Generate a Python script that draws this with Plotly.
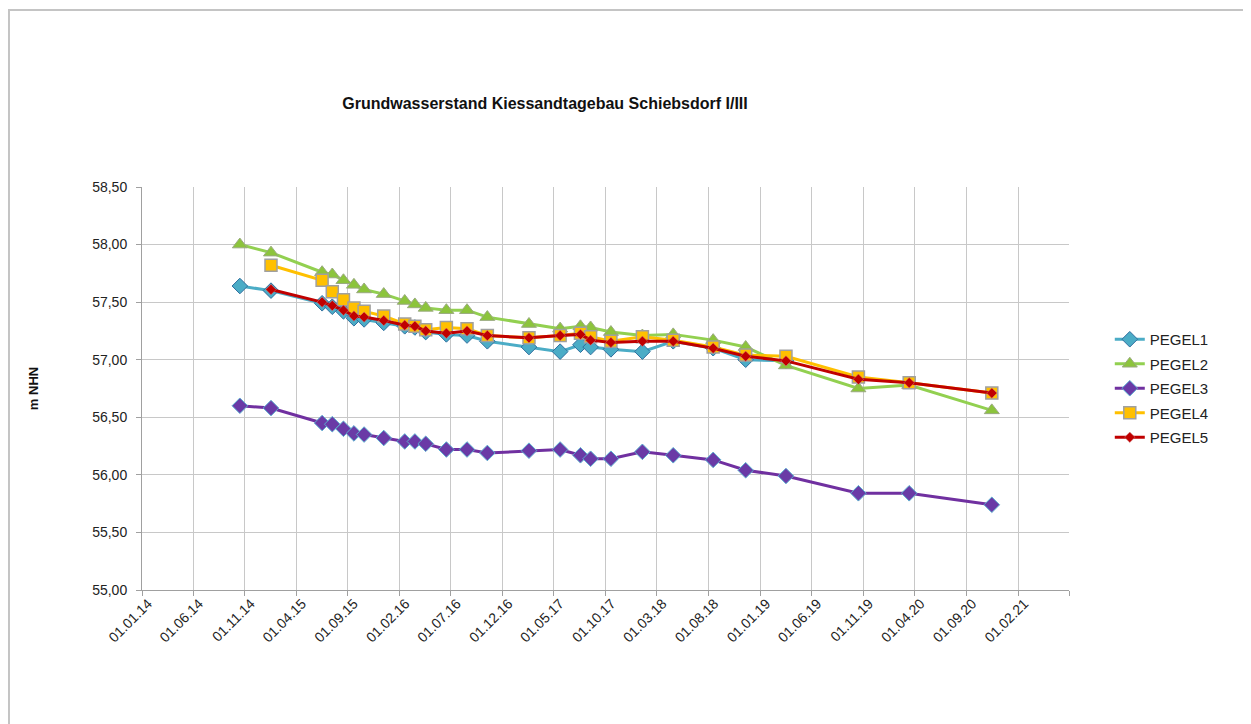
import plotly.graph_objects as go

dates = ["2014-10-17", "2015-01-17", "2015-06-17", "2015-07-17", "2015-08-19",
         "2015-09-19", "2015-10-19", "2015-12-16", "2016-02-16", "2016-03-17",
         "2016-04-18", "2016-06-18", "2016-08-18", "2016-10-17", "2017-02-17",
         "2017-05-20", "2017-07-19", "2017-08-18", "2017-10-17", "2018-01-18",
         "2018-04-19", "2018-08-15", "2018-11-19", "2019-03-18", "2019-10-18",
         "2020-03-16", "2020-11-15"]

pegel1 = [57.64, 57.60, 57.49, 57.46, 57.42, 57.36, 57.35, 57.32, 57.29, 57.28,
          57.24, 57.22, 57.21, 57.16, 57.11, 57.07, 57.13, 57.11, 57.09, 57.07,
          57.16, 57.10, 57.00, 56.99]
pegel2 = [58.00, 57.93, 57.76, 57.74, 57.69, 57.65, 57.61, 57.57, 57.51, 57.48,
          57.45, 57.43, 57.43, 57.37, 57.31, 57.27, 57.29, 57.28, 57.24, 57.21,
          57.22, 57.17, 57.11, 56.95, 56.75, 56.78, 56.56]
pegel3 = [56.60, 56.58, 56.45, 56.44, 56.40, 56.36, 56.35, 56.32, 56.29, 56.29,
          56.27, 56.22, 56.22, 56.19, 56.21, 56.22, 56.17, 56.14, 56.14, 56.20,
          56.17, 56.13, 56.04, 55.99, 55.84, 55.84, 55.74]
pegel4 = [57.82, 57.69, 57.59, 57.52, 57.45, 57.42, 57.38, 57.31, 57.29, 57.26,
          57.28, 57.27, 57.21, 57.19, 57.21, 57.23, 57.20, 57.16, 57.20, 57.17,
          57.11, 57.04, 57.03, 56.85, 56.80, 56.71]
pegel5 = [57.61, 57.50, 57.47, 57.43, 57.38, 57.37, 57.34, 57.30, 57.29, 57.25,
          57.23, 57.25, 57.21, 57.19, 57.21, 57.22, 57.17, 57.15, 57.16, 57.16,
          57.10, 57.03, 56.99, 56.83, 56.80, 56.71]

tick_dates = ["2014-01-01", "2014-06-01", "2014-11-01", "2015-04-01", "2015-09-01",
              "2016-02-01", "2016-07-01", "2016-12-01", "2017-05-01", "2017-10-01",
              "2018-03-01", "2018-08-01", "2019-01-01", "2019-06-01", "2019-11-01",
              "2020-04-01", "2020-09-01", "2021-02-01", "2021-07-01"]
tick_labels = ["01.01.14", "01.06.14", "01.11.14", "01.04.15", "01.09.15",
               "01.02.16", "01.07.16", "01.12.16", "01.05.17", "01.10.17",
               "01.03.18", "01.08.18", "01.01.19", "01.06.19", "01.11.19",
               "01.04.20", "01.09.20", "01.02.21", ""]

FONT = "Liberation Sans, Arial, sans-serif"
W, H = 1243, 716   # page body has an 8px margin

fig = go.Figure()
fig.add_trace(go.Scatter(
    x=dates[:len(pegel1)], y=pegel1, name="PEGEL1", mode="lines+markers",
    legendgroup="p1",
    line=dict(color="#4bacc6", width=3),
    marker=dict(symbol="diamond", size=12, color="#4bacc6",
                line=dict(color="#2f6f9f", width=1))))
fig.add_trace(go.Scatter(
    x=dates, y=pegel2, name="PEGEL2", mode="lines+markers",
    legendgroup="p2",
    line=dict(color="#92d050", width=3),
    marker=dict(symbol="triangle-up", size=13, color="#8cc43c",
                line=dict(color="#9aaa80", width=1))))
fig.add_trace(go.Scatter(
    x=dates, y=pegel3, name="PEGEL3", mode="lines+markers",
    legendgroup="p3",
    line=dict(color="#7030a0", width=3),
    marker=dict(symbol="diamond", size=12, color="#6a3aa6",
                line=dict(color="#5aaed0", width=1))))
fig.add_trace(go.Scatter(
    x=dates[1:], y=pegel4, name="PEGEL4", mode="lines+markers",
    legendgroup="p4",
    line=dict(color="#ffc000", width=3),
    marker=dict(symbol="square", size=12, color="#ffc000",
                line=dict(color="#a0a0a0", width=1.5))))
fig.add_trace(go.Scatter(
    x=dates[1:], y=pegel5, name="PEGEL5", mode="lines+markers",
    legendgroup="p5",
    line=dict(color="#c00000", width=3),
    marker=dict(symbol="diamond", size=8, color="#c00000",
                line=dict(color="#d08080", width=0.5))))

fig.add_shape(type="rect", xref="paper", yref="paper",
              x0=-0.1435, x1=1.1909, y0=-0.40, y1=1.439,
              line=dict(color="#c4c4c4", width=2), layer="below")

fig.update_layout(
    width=W, height=H,
    margin=dict(l=134, r=182, t=179, b=134),
    paper_bgcolor="white", plot_bgcolor="white",
    separators=",.",
    font=dict(family=FONT, size=14, color="#222222"),
    title=dict(text="Grundwasserstand Kiessandtagebau Schiebsdorf I/III",
               x=537 / W, xanchor="center", y=1 - 95 / H, yanchor="middle",
               font=dict(family=FONT, size=16, color="#111111", weight="bold")),
    showlegend=True,
    legend=dict(x=1.044, xanchor="left", y=0.50, yanchor="middle",
                font=dict(family=FONT, size=15, color="#222222"),
                tracegroupgap=2, itemwidth=30),
    xaxis=dict(type="date", range=["2014-01-01", "2021-07-01"],
               tickmode="array", tickvals=tick_dates, ticktext=tick_labels,
               tickangle=-45, showgrid=True, gridcolor="#c8c8c8", gridwidth=1,
               showline=True, linecolor="#a0a0a0", linewidth=1,
               ticks="outside", ticklen=5, tickcolor="#a0a0a0",
               ticklabelstandoff=-6, ticklabelshift=6,
               tickfont=dict(family=FONT, size=14, color="#222222"),
               zeroline=False),
    yaxis=dict(range=[55.0, 58.5], dtick=0.5, tick0=55.0, tickformat=".2f",
               showgrid=True, gridcolor="#c8c8c8", gridwidth=1,
               showline=True, linecolor="#a0a0a0", linewidth=1,
               ticks="outside", ticklen=5, tickcolor="#a0a0a0",
               ticklabelstandoff=6,
               tickfont=dict(family=FONT, size=14, color="#222222"),
               title=dict(text="m NHN", standoff=50,
                          font=dict(family=FONT, size=13, color="#111111",
                                    weight="bold")),
               zeroline=False),
)

fig.write_html("out.html")
